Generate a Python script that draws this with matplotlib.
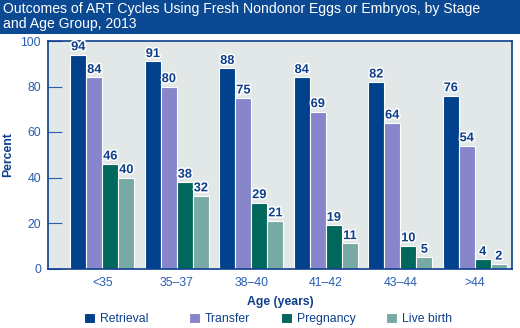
import matplotlib
matplotlib.use("Agg")
import matplotlib.pyplot as plt
import matplotlib.patheffects as pe
import numpy as np

plt.rcParams["font.family"] = ["Liberation Sans", "DejaVu Sans"]

BANNER, INK, TICK, PANEL = "#0b4a93", "#0d3f8c", "#2a5db0", "#e2e7e7"
COLORS = ["#00408c", "#8786cb", "#00675c", "#78aaa5"]

age_groups = ["<35", "35\u201337", "38\u201340", "41\u201342", "43\u201344", ">44"]
stages = ["Retrieval", "Transfer", "Pregnancy", "Live birth"]
retrieval = [94, 91, 88, 84, 82, 76]
transfer = [84, 80, 75, 69, 64, 54]
pregnancy = [46, 38, 29, 19, 10, 4]
live_birth = [40, 32, 21, 11, 5, 2]
series = [retrieval, transfer, pregnancy, live_birth]

fig = plt.figure(figsize=(5.2, 3.28), dpi=100, facecolor="white")
W, H = 520, 328

# title banner
fig.patches.append(plt.Rectangle((0, 1 - 34 / H), 1, 34 / H, transform=fig.transFigure,
                                 facecolor=BANNER, edgecolor="none"))
fig.text(3 / W, 1 - 2 / H, "Outcomes of ART Cycles Using Fresh Nondonor Eggs or Embryos, by Stage\n"
         "and Age Group, 2013", color="white", fontsize=10.1, va="top", ha="left",
         linespacing=1.05)

ax = fig.add_axes([48 / W, 1 - 268.5 / H, 464 / W, 227.5 / H])
ax.set_facecolor(PANEL)
for sp in ax.spines.values():
    sp.set_color(INK)
    sp.set_linewidth(1.2)

x = np.arange(len(age_groups))
w = 0.215
halo = [pe.withStroke(linewidth=2.2, foreground="white")]
handles = []
for i, (name, vals, c) in enumerate(zip(stages, series, COLORS)):
    pos = x + (i - 1.5) * w
    bars = ax.bar(pos, vals, w, color=c, edgecolor="white", linewidth=0.8, label=name)
    handles.append(bars)
    for p, v in zip(pos, vals):
        ax.annotate(str(v), (p, v), xytext=(0, 1), textcoords="offset points",
                    ha="center", va="bottom", fontsize=9.2, fontweight="bold",
                    color=INK, path_effects=halo)

ax.set_xlim(-0.73, 5.5)
ax.set_ylim(0, 100)
ax.set_yticks([0, 20, 40, 60, 80, 100])
ax.set_xticks(x, age_groups)
ax.tick_params(axis="y", direction="in", length=10, color=TICK, labelcolor=TICK,
               labelsize=8.8, pad=5)
ax.tick_params(axis="x", length=0, labelcolor=TICK, labelsize=8.8, pad=6)
ax.set_ylabel("Percent", color=INK, fontsize=8.8, fontweight="bold")
ax.yaxis.set_label_coords(-0.073, 0.5)
ax.set_xlabel("Age (years)", color=INK, fontsize=8.8, fontweight="bold", labelpad=5)

# legend items sit at fixed positions in the reference
for h, name, lx in zip(handles, stages, [84, 189, 281, 386]):
    fig.legend([h], [name], loc="center left", bbox_to_anchor=(lx / W, 1 - 319 / H),
               frameon=False, fontsize=8.8, labelcolor=INK, handlelength=0.9,
               handleheight=0.9, handletextpad=0.4, borderpad=0, borderaxespad=0)

fig.savefig("out.png", dpi=100, facecolor="white")
